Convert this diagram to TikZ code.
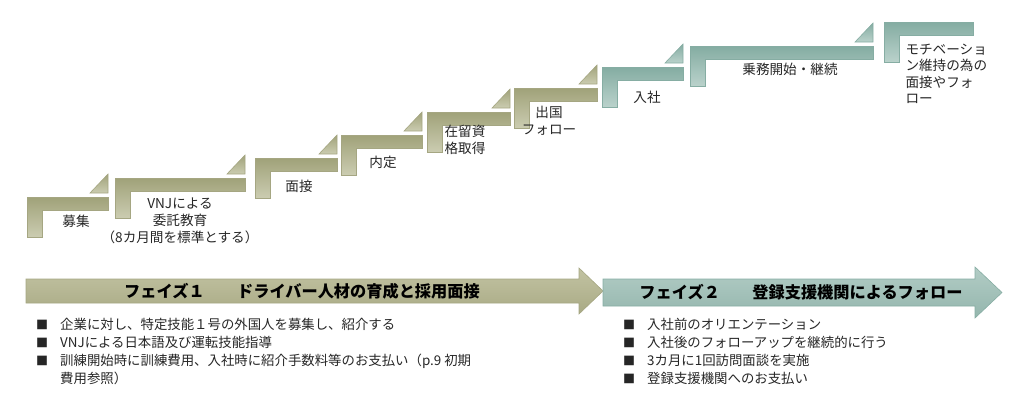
\documentclass[tikz,border=0pt]{standalone}
\usepackage{fontspec}
\setmainfont{Noto Sans CJK JP}
\usetikzlibrary{positioning}
\usetikzlibrary{calc}
\definecolor{olivedark}{HTML}{A0A279}
\definecolor{olivelight}{HTML}{CBCCB1}
\definecolor{oliveline}{HTML}{A5A682}
\definecolor{olivetop}{HTML}{C2C3A2}
\definecolor{olivebottom}{HTML}{A9AA85}
\definecolor{tealdark}{HTML}{84ACA2}
\definecolor{teallight}{HTML}{BAD2CB}
\definecolor{tealline}{HTML}{86ADA3}
\definecolor{tealtop}{HTML}{B2CCC5}
\definecolor{tealbottom}{HTML}{94B6AD}
\definecolor{textgrey}{HTML}{262626}
\newcommand{\bul}{\raisebox{0.3pt}{\fontsize{12}{12}\selectfont ■}}

\begin{document}
\begin{tikzpicture}[x=1pt, y=-1pt, font=\fontsize{13.6}{17}\selectfont, text=textgrey,
		olivestep/.style={draw=oliveline, line width=0.6pt, top color=olivedark, bottom color=olivelight},
		tealstep/.style={draw=tealline, line width=0.6pt, top color=tealdark, bottom color=teallight},
		olivearrow/.style={draw=oliveline, line width=0.6pt, top color=olivetop, bottom color=olivebottom},
		tealarrow/.style={draw=tealline, line width=0.6pt, top color=tealtop, bottom color=tealbottom},
		phasetext/.style={font=\fontsize{16.2}{18}\selectfont\bfseries, text=black},
		listtext/.style={anchor=north west, inner sep=0pt, font=\fontsize{13.4}{18}\selectfont}]
	\useasboundingbox (0,0) rectangle (1024,416);
	\foreach \x/\y/\w/\s in {27/197/81/olivestep, 115/178/130/olivestep, 255/158/82/olivestep, 341/135/81/olivestep, 427/112/83/olivestep, 514/88/83/olivestep, 602/67/81/tealstep, 690/46/183/tealstep} {
		\draw[\s] (\x,\y) -- ++(\w,0) -- ++(0,13) -- ++(15-\w,0) -- ++(0,27) -- ++(-15,0) -- cycle;
		\draw[\s] (\x+\w,\y-4) -- ++(-18,0) -- ++(18,-19) -- cycle;
	}
	\draw[tealstep] (884,22) -- ++(89,0) -- ++(0,13) -- ++(-74,0) -- ++(0,27) -- ++(-15,0) -- cycle;
	\node (boshu) at (76,221) {募集};
	\node[align=center] (kyoiku) at (180,221) {VNJによる\\委託教育\\（8カ月間を標準とする）};
	\node (mensetsu) at (299,186) {面接};
	\node (naitei) at (383,162) {内定};
	\node[align=center] (zairyu) at (465,140) {在留資\\格取得};
	\node[align=center] (shukkoku) at (549,121) {出国\\フォロー};
	\node (nyusha) at (647,97) {入社};
	\node (jomu) at (790,69) {乗務開始・継続};
	\node[align=left, anchor=west, font=\fontsize{13.6}{16.5}\selectfont] (motivation) at (902,74) {モチベーショ\\ン維持の為の\\面接やフォ\\ロー};
	\draw[olivearrow] (26,279) -- (579,279) -- (579,268) -- (603,291) -- (579,314) -- (579,303) -- (26,303) -- cycle;
	\draw[tealarrow] (603,279) -- (975,279) -- (975,267) -- (1002,292.5) -- (975,318) -- (975,306) -- (603,306) -- cycle;
	\node[phasetext] (phase1) at (302,291) {フェイズ１　　ドライバー人材の育成と採用面接};
	\node[phasetext] (phase2) at (801,292.5) {フェイズ２　　登録支援機関によるフォロー};
	\node[listtext] (list1) at (36,316.5) {\begin{tabular}{@{}p{24pt}@{}l@{}}
		\bul & 企業に対し、特定技能１号の外国人を募集し、紹介する\\
		\bul & VNJによる日本語及び運転技能指導\\
		\bul & 訓練開始時に訓練費用、入社時に紹介手数料等のお支払い（p.9 初期\\
		& 費用参照）
	\end{tabular}};
	\node[listtext] (list2) at (623,316.5) {\begin{tabular}{@{}p{24pt}@{}l@{}}
		\bul & 入社前のオリエンテーション\\
		\bul & 入社後のフォローアップを継続的に行う\\
		\bul & 3カ月に1回訪問面談を実施\\
		\bul & 登録支援機関へのお支払い
	\end{tabular}};
\end{tikzpicture}
\end{document}
